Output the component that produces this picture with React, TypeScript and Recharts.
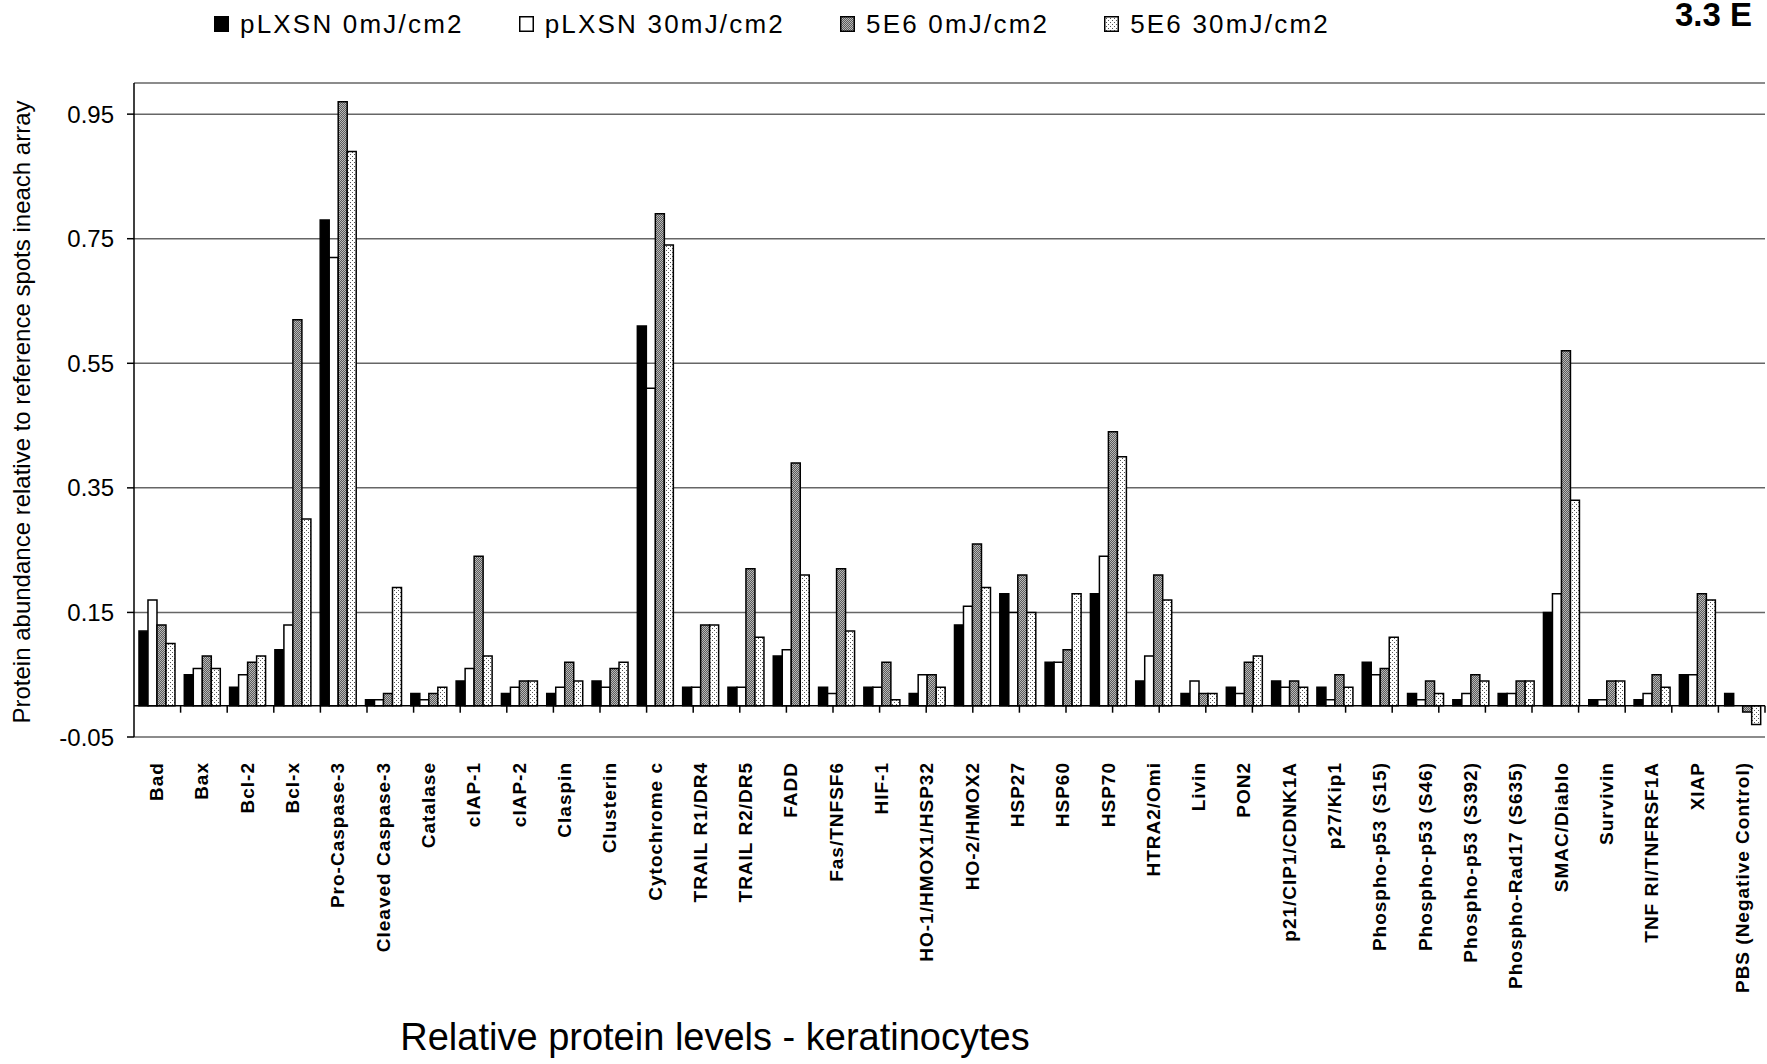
import { Bar, BarChart, CartesianGrid, ReferenceLine, XAxis, YAxis } from "recharts";

const FONT = '"Liberation Sans", Arial, Helvetica, sans-serif';

const PROTEINS = [
  "Bad",
  "Bax",
  "Bcl-2",
  "Bcl-x",
  "Pro-Caspase-3",
  "Cleaved Caspase-3",
  "Catalase",
  "cIAP-1",
  "cIAP-2",
  "Claspin",
  "Clusterin",
  "Cytochrome c",
  "TRAIL R1/DR4",
  "TRAIL R2/DR5",
  "FADD",
  "Fas/TNFSF6",
  "HIF-1",
  "HO-1/HMOX1/HSP32",
  "HO-2/HMOX2",
  "HSP27",
  "HSP60",
  "HSP70",
  "HTRA2/Omi",
  "Livin",
  "PON2",
  "p21/CIP1/CDNK1A",
  "p27/Kip1",
  "Phospho-p53 (S15)",
  "Phospho-p53 (S46)",
  "Phospho-p53 (S392)",
  "Phospho-Rad17 (S635)",
  "SMAC/Diablo",
  "Survivin",
  "TNF RI/TNFRSF1A",
  "XIAP",
  "PBS (Negative Control)",
];

const PLXSN_0 = [
  0.12, 0.05, 0.03, 0.09, 0.78, 0.01, 0.02, 0.04, 0.02, 0.02, 0.04, 0.61,
  0.03, 0.03, 0.08, 0.03, 0.03, 0.02, 0.13, 0.18, 0.07, 0.18, 0.04, 0.02,
  0.03, 0.04, 0.03, 0.07, 0.02, 0.01, 0.02, 0.15, 0.01, 0.01, 0.05, 0.02,
];
const PLXSN_30 = [
  0.17, 0.06, 0.05, 0.13, 0.72, 0.01, 0.01, 0.06, 0.03, 0.03, 0.03, 0.51,
  0.03, 0.03, 0.09, 0.02, 0.03, 0.05, 0.16, 0.15, 0.07, 0.24, 0.08, 0.04,
  0.02, 0.03, 0.01, 0.05, 0.01, 0.02, 0.02, 0.18, 0.01, 0.02, 0.05, 0,
];
const E6_0 = [
  0.13, 0.08, 0.07, 0.62, 0.97, 0.02, 0.02, 0.24, 0.04, 0.07, 0.06, 0.79,
  0.13, 0.22, 0.39, 0.22, 0.07, 0.05, 0.26, 0.21, 0.09, 0.44, 0.21, 0.02,
  0.07, 0.04, 0.05, 0.06, 0.04, 0.05, 0.04, 0.57, 0.04, 0.05, 0.18, -0.01,
];
const E6_30 = [
  0.1, 0.06, 0.08, 0.3, 0.89, 0.19, 0.03, 0.08, 0.04, 0.04, 0.07, 0.74,
  0.13, 0.11, 0.21, 0.12, 0.01, 0.03, 0.19, 0.15, 0.18, 0.4, 0.17, 0.02,
  0.08, 0.03, 0.03, 0.11, 0.02, 0.04, 0.04, 0.33, 0.04, 0.03, 0.17, -0.03,
];

const Y_TICKS = [-0.05, 0.15, 0.35, 0.55, 0.75, 0.95];

const SERIES = [
  { key: "plxsn0", name: "pLXSN 0mJ/cm2", fill: "#000" },
  { key: "plxsn30", name: "pLXSN 30mJ/cm2", fill: "#fff" },
  { key: "e60", name: "5E6 0mJ/cm2", fill: "url(#fill-dither)" },
  { key: "e630", name: "5E6 30mJ/cm2", fill: "url(#fill-dots)" },
];

const rows = PROTEINS.map((name, i) => ({
  name,
  plxsn0: PLXSN_0[i],
  plxsn30: PLXSN_30[i],
  e60: E6_0[i],
  e630: E6_30[i],
}));

const WIDTH = 1767;
const HEIGHT = 1064;

function CategoryTick({ x, y, payload }: any) {
  return (
    <text
      x={x}
      y={y}
      transform={`rotate(-90, ${x}, ${y})`}
      textAnchor="end"
      dominantBaseline="central"
      fontFamily={FONT}
      fontWeight="bold"
      fontSize={19}
      letterSpacing={1}
      fill="#000"
    >
      {payload.value}
    </text>
  );
}

export default function App() {
  return (
    <div
      style={{
        position: "absolute",
        left: 0,
        top: 0,
        width: WIDTH,
        height: HEIGHT,
        overflow: "hidden",
        background: "#fff",
        fontFamily: FONT,
      }}
    >
      <BarChart
        width={WIDTH}
        height={HEIGHT}
        data={rows}
        margin={{ top: 83, right: 2, left: 0, bottom: 0 }}
        barCategoryGap="11%"
        barGap={0}
      >
        <defs>
          <pattern id="fill-dither" patternUnits="userSpaceOnUse" width={2} height={2}>
            <rect width={2} height={2} fill="#5c5c5c" />
            <rect width={1} height={1} fill="#b8b8b8" />
            <rect x={1} y={1} width={1} height={1} fill="#b8b8b8" />
          </pattern>
          <pattern id="fill-dots" patternUnits="userSpaceOnUse" width={4} height={4}>
            <rect width={4} height={4} fill="#fff" />
            <rect width={1} height={1} fill="#555" />
            <rect x={2} y={2} width={1} height={1} fill="#555" />
          </pattern>
        </defs>
        <CartesianGrid vertical={false} stroke="#666" strokeWidth={1.5} />
        <XAxis
          dataKey="name"
          interval={0}
          axisLine={false}
          tickLine={false}
          tickSize={0}
          tickMargin={25}
          height={327}
          tick={<CategoryTick />}
        />
        {/* numeric twin of the category axis, used to place the boundary ticks */}
        <XAxis xAxisId="edge" type="number" domain={[0, PROTEINS.length]} hide allowDataOverflow />
        <YAxis
          width={134}
          domain={[-0.05, 1]}
          ticks={Y_TICKS}
          interval={0}
          allowDataOverflow
          tickFormatter={(v: number) => v.toFixed(2)}
          axisLine={{ stroke: "#000", strokeWidth: 1.5 }}
          tickLine={{ stroke: "#000", strokeWidth: 1.5 }}
          tickSize={7}
          tickMargin={13}
          tick={{ fill: "#000", fontSize: 24, fontFamily: FONT }}
        />
        {SERIES.map((s) => (
          <Bar
            key={s.key}
            dataKey={s.key}
            name={s.name}
            fill={s.fill}
            stroke="#000"
            strokeWidth={1.5}
            isAnimationActive={false}
          />
        ))}
        <ReferenceLine y={0} stroke="#000" strokeWidth={1.5} />
        {PROTEINS.slice(1).map((_, i) => (
          <ReferenceLine
            key={`edge-${i}`}
            xAxisId="edge"
            segment={[
              { x: i + 1, y: 0 },
              { x: i + 1, y: -0.011 },
            ]}
            stroke="#000"
            strokeWidth={1.5}
          />
        ))}
      </BarChart>

      {/* legend row */}
      <div
        style={{
          position: "absolute",
          left: 214,
          top: 11,
          display: "flex",
          alignItems: "center",
          gap: 55,
          fontSize: 26,
          letterSpacing: 2.2,
          lineHeight: "26px",
          whiteSpace: "nowrap",
        }}
      >
        {SERIES.map((s) => (
          <div key={s.key} style={{ display: "flex", alignItems: "center", gap: 11 }}>
            <svg width={15} height={16}>
              <rect x={0.75} y={0.75} width={13.5} height={14.5} fill={s.fill} stroke="#000" strokeWidth={1.5} />
            </svg>
            <span>{s.name}</span>
          </div>
        ))}
      </div>

      <svg
        width={WIDTH}
        height={HEIGHT}
        style={{ position: "absolute", left: 0, top: 0, pointerEvents: "none" }}
      >
        <text x={1675} y={26} fontFamily={FONT} fontWeight="bold" fontSize={33} fill="#000">
          3.3 E
        </text>
        <text
          transform="translate(30, 412) rotate(-90)"
          textAnchor="middle"
          fontFamily={FONT}
          fontSize={24}
          fill="#000"
        >
          Protein abundance relative to reference spots ineach array
        </text>
        <text x={715} y={1050} textAnchor="middle" fontFamily={FONT} fontSize={38} fill="#000">
          Relative protein levels - keratinocytes
        </text>
      </svg>
    </div>
  );
}
